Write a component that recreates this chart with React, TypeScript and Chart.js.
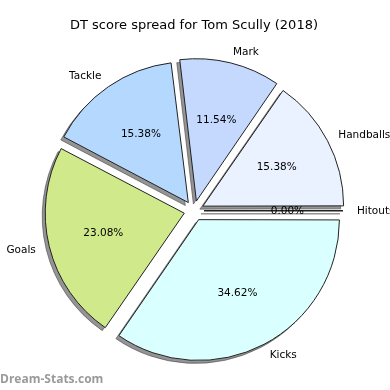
import React, { useEffect, useRef } from "react";
import { Chart, registerables } from "chart.js";

Chart.register(...registerables);

const TITLE = "DT score spread for Tom Scully (2018)";
const WATERMARK = "Dream-Stats.com";
const categories = ["Kicks", "Goals", "Tackle", "Mark", "Handballs", "Hitouts"];
const counts = [9, 6, 4, 3, 4, 0];
const sliceColors = ["#d9ffff", "#d0e98a", "#b5d8ff", "#c5d9ff", "#eaf1ff", "#d6e6f5"];

const EXPLODE = 10;
const RADIUS = 139;
const LABEL_FONT = "10.5px 'DejaVu Sans'";
const SHADOW = "rgba(60,60,60,0.55)";

const total = counts.reduce((a, b) => a + b, 0);
const pctLabels = counts.map((c) => ((c / total) * 100).toFixed(2) + "%");

const pieDecor = {
  id: "pieDecor",
  beforeDatasetsDraw(chart: any) {
    const ctx = chart.ctx as CanvasRenderingContext2D;
    const meta = chart.getDatasetMeta(0);
    ctx.save();
    ctx.translate(-3, 3);
    meta.data.forEach((arc: any) => {
      const p = arc.getProps(["x", "y", "startAngle", "endAngle", "outerRadius", "circumference"], true);
      if (p.circumference === 0) {
        const a = p.startAngle;
        const ox = p.x + Math.cos(a) * EXPLODE;
        const oy = p.y + Math.sin(a) * EXPLODE;
        ctx.strokeStyle = SHADOW;
        ctx.lineWidth = 1.5;
        ctx.beginPath();
        ctx.moveTo(ox, oy);
        ctx.lineTo(ox + Math.cos(a) * p.outerRadius, oy + Math.sin(a) * p.outerRadius);
        ctx.stroke();
        return;
      }
      const o = arc.options;
      const bg = o.backgroundColor;
      const bc = o.borderColor;
      o.backgroundColor = SHADOW;
      o.borderColor = SHADOW;
      arc.draw(ctx);
      o.backgroundColor = bg;
      o.borderColor = bc;
    });
    ctx.restore();
    ctx.save();
    meta.data.forEach((arc: any) => {
      const p = arc.getProps(["x", "y", "startAngle", "outerRadius", "circumference"], true);
      if (p.circumference === 0) {
        const a = p.startAngle;
        const ox = p.x + Math.cos(a) * EXPLODE;
        const oy = p.y + Math.sin(a) * EXPLODE;
        ctx.strokeStyle = "#222";
        ctx.lineWidth = 1.5;
        ctx.beginPath();
        ctx.moveTo(ox, oy);
        ctx.lineTo(ox + Math.cos(a) * p.outerRadius, oy + Math.sin(a) * p.outerRadius);
        ctx.stroke();
      }
    });
    ctx.restore();
  },
  afterDatasetsDraw(chart: any) {
    const ctx = chart.ctx as CanvasRenderingContext2D;
    ctx.save();
    const meta = chart.getDatasetMeta(0);
    ctx.font = LABEL_FONT;
    ctx.fillStyle = "#000";
    ctx.textBaseline = "middle";
    meta.data.forEach((arc: any, i: number) => {
      const p = arc.getProps(["x", "y", "startAngle", "endAngle", "outerRadius"], true);
      const mid = (p.startAngle + p.endAngle) / 2;
      const c = Math.cos(mid);
      const s = Math.sin(mid);
      const cx = p.x + c * EXPLODE;
      const cy = p.y + s * EXPLODE;
      const r = p.outerRadius;
      ctx.textAlign = c > 0 ? "left" : "right";
      ctx.fillText(categories[i], cx + c * r * 1.1, cy + s * r * 1.1);
      ctx.textAlign = "center";
      ctx.fillText(pctLabels[i], cx + c * r * 0.6, cy + s * r * 0.6);
    });
    ctx.restore();
  },
  afterDraw(chart: any) {
    const ctx = chart.ctx as CanvasRenderingContext2D;
    ctx.save();
    ctx.font = "bold 12px 'Open Sans'";
    ctx.fillStyle = "#9a9a9a";
    ctx.textAlign = "left";
    ctx.textBaseline = "middle";
    ctx.fillText(WATERMARK, 0, 380);
    ctx.restore();
  },
};

export default function App() {
  const ref = useRef<HTMLCanvasElement | null>(null);
  useEffect(() => {
    if (!ref.current) return;
    const chart = new Chart(ref.current, {
      type: "pie",
      data: {
        labels: categories,
        datasets: [
          {
            data: counts,
            backgroundColor: sliceColors,
            borderColor: "#222",
            borderWidth: 1,
            offset: EXPLODE * 4,
            clip: false as any,
          } as any,
        ],
      },
      options: {
        responsive: false,
        animation: false,
        rotation: 90,
        radius: RADIUS,
        layout: { padding: { left: 0, right: 2, top: 0, bottom: 10 } },
        plugins: {
          legend: { display: false },
          tooltip: { enabled: false },
          title: {
            display: true,
            text: TITLE,
            color: "#000",
            font: { family: "'DejaVu Sans'", size: 13, weight: "normal" as any },
            padding: { top: 18, bottom: 8 },
          },
        },
      } as any,
      plugins: [pieDecor],
    });
    return () => chart.destroy();
  }, []);
  return (
    <div style={{ position: "absolute", left: 0, top: 0, width: 390, height: 390, background: "#fff" }}>
      <canvas ref={ref} width={390} height={390} />
    </div>
  );
}
